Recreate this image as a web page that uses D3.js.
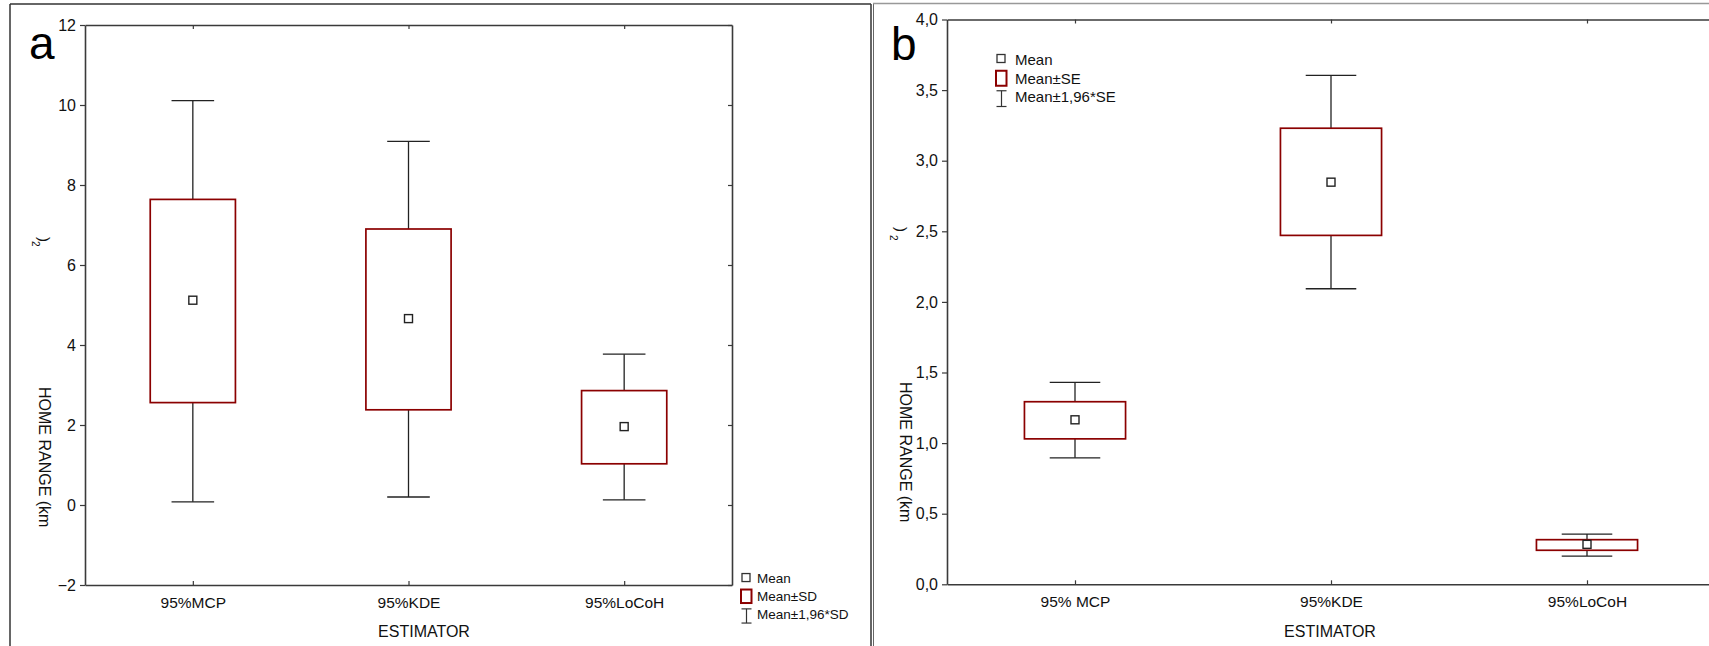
<!DOCTYPE html>
<html>
<head>
<meta charset="utf-8">
<script src="https://cdn.jsdelivr.net/npm/d3@7"></script>
<style>
  html, body { margin: 0; padding: 0; background: #fff; }
  svg { display: block; font-family: "Liberation Sans", Arial, sans-serif; }
</style>
</head>
<body>
<svg id="chart" width="1709" height="646"></svg>
<script>
// ---------- DATA ----------
// Panel a: Mean, Mean±SD (box), Mean±1.96*SD (whiskers)
const categoriesA = ["95%MCP", "95%KDE", "95%LoCoH"];
const meanA   = [5.12, 4.66, 1.96];
const sdLowA  = [2.56, 2.38, 1.03];
const sdHighA = [7.64, 6.90, 2.86];
const ciLowA  = [0.08, 0.20, 0.13];
const ciHighA = [10.11, 9.09, 3.77];
const yTicksA = [-2, 0, 2, 4, 6, 8, 10, 12];
const legendA = ["Mean", "Mean±SD", "Mean±1,96*SD"];

// Panel b: Mean, Mean±SE (box), Mean±1.96*SE (whiskers)
const categoriesB = ["95% MCP", "95%KDE", "95%LoCoH"];
const meanB   = [1.165, 2.848, 0.283];
const seLowB  = [1.030, 2.471, 0.241];
const seHighB = [1.293, 3.230, 0.316];
const ciLowB  = [0.896, 2.093, 0.200];
const ciHighB = [1.430, 3.604, 0.356];
const yTicksB = [0, 0.5, 1, 1.5, 2, 2.5, 3, 3.5, 4];
const legendB = ["Mean", "Mean±SE", "Mean±1,96*SE"];

const yTitle = "HOME RANGE (km";
const xTitle = "ESTIMATOR";

// ---------- DRAW ----------
const svg = d3.select("#chart");
const BOX = "#8b0000", INK = "#222", AX = "#3a3a3a";

// panel frames
svg.append("line").attr("x1", 10).attr("y1", 4).attr("x2", 871).attr("y2", 4)
  .attr("stroke", "#333").attr("stroke-width", 1.5);
svg.append("line").attr("x1", 10).attr("y1", 4).attr("x2", 10).attr("y2", 646)
  .attr("stroke", "#333").attr("stroke-width", 1.5);
svg.append("line").attr("x1", 871).attr("y1", 4).attr("x2", 871).attr("y2", 646)
  .attr("stroke", "#333").attr("stroke-width", 1.5);
svg.append("line").attr("x1", 873.5).attr("y1", 3).attr("x2", 873.5).attr("y2", 646)
  .attr("stroke", "#666").attr("stroke-width", 1);
svg.append("line").attr("x1", 873).attr("y1", 3.5).attr("x2", 1709).attr("y2", 3.5)
  .attr("stroke", "#999").attr("stroke-width", 1.5);

function panel(cfg) {
  const g = svg.append("g");
  const x = d3.scalePoint().domain(cfg.cats).range([cfg.left, cfg.right]).padding(0.5);
  const y = d3.scaleLinear().domain(cfg.ydom).range([cfg.bottom, cfg.top]);
  const bw = x.step() * 0.395;
  const cw = bw * 0.5;

  function styleAxis(sel) {
    sel.select(".domain").attr("stroke", AX).attr("stroke-width", 1.6);
    sel.selectAll(".tick line").attr("stroke", AX).attr("stroke-width", 1.2);
    sel.selectAll("text").attr("fill", "#111").attr("font-family", "Liberation Sans, Arial, sans-serif");
  }

  // left axis
  g.append("g").attr("transform", `translate(${cfg.left},0)`)
    .call(d3.axisLeft(y).tickValues(cfg.ticks).tickFormat(cfg.fmt)
      .tickSize(5).tickSizeOuter(0).tickPadding(4))
    .call(styleAxis)
    .selectAll("text").attr("font-size", 16);
  // right axis (inward ticks, no labels)
  g.append("g").attr("transform", `translate(${cfg.right},0)`)
    .call(d3.axisRight(y).tickValues(cfg.ticks).tickFormat("")
      .tickSize(-4).tickSizeOuter(0))
    .call(styleAxis);
  // top axis
  g.append("g").attr("transform", `translate(0,${cfg.top})`)
    .call(d3.axisTop(x).tickFormat("").tickSize(-4).tickSizeOuter(0))
    .call(styleAxis);
  // bottom axis
  g.append("g").attr("transform", `translate(0,${cfg.bottom})`)
    .call(d3.axisBottom(x).tickSize(-4).tickSizeOuter(0).tickPadding(12))
    .call(styleAxis)
    .selectAll("text").attr("font-size", 15.5);

  const data = cfg.cats.map((c, i) => ({
    c, m: cfg.mean[i], bl: cfg.boxLo[i], bh: cfg.boxHi[i], wl: cfg.wLo[i], wh: cfg.wHi[i]
  }));
  const items = g.append("g").selectAll("g").data(data).join("g");

  // whiskers
  items.append("line").attr("x1", d => x(d.c)).attr("x2", d => x(d.c))
    .attr("y1", d => y(d.bh)).attr("y2", d => y(d.wh)).attr("stroke", INK).attr("stroke-width", 1.3);
  items.append("line").attr("x1", d => x(d.c)).attr("x2", d => x(d.c))
    .attr("y1", d => y(d.bl)).attr("y2", d => y(d.wl)).attr("stroke", INK).attr("stroke-width", 1.3);
  items.append("line").attr("x1", d => x(d.c) - cw / 2).attr("x2", d => x(d.c) + cw / 2)
    .attr("y1", d => y(d.wh)).attr("y2", d => y(d.wh)).attr("stroke", INK).attr("stroke-width", 1.3);
  items.append("line").attr("x1", d => x(d.c) - cw / 2).attr("x2", d => x(d.c) + cw / 2)
    .attr("y1", d => y(d.wl)).attr("y2", d => y(d.wl)).attr("stroke", INK).attr("stroke-width", 1.3);
  // box
  items.append("rect").attr("x", d => x(d.c) - bw / 2).attr("width", bw)
    .attr("y", d => y(d.bh)).attr("height", d => y(d.bl) - y(d.bh))
    .attr("fill", "none").attr("stroke", BOX).attr("stroke-width", 1.7);
  // mean marker
  items.append("rect").attr("x", d => x(d.c) - 4).attr("y", d => y(d.m) - 4)
    .attr("width", 8).attr("height", 8)
    .attr("fill", "#fff").attr("stroke", INK).attr("stroke-width", 1.4);

  // y title (with displaced "²)" glyphs as in the reference)
  g.append("text").attr("transform", `translate(${cfg.ytX},${cfg.ytY}) rotate(90)`)
    .attr("font-size", 16).attr("fill", "#111").text(yTitle);
  g.append("text").attr("transform", `translate(${cfg.parX},${cfg.parY}) rotate(90)`)
    .attr("font-size", 15).attr("fill", "#111").text(")");
  g.append("text").attr("transform", `translate(${cfg.supX},${cfg.supY}) rotate(90)`)
    .attr("font-size", 10).attr("fill", "#111").text("2");

  // x title
  g.append("text").attr("x", cfg.xtX).attr("y", 637).attr("text-anchor", "middle")
    .attr("font-size", 16).attr("fill", "#111").text(xTitle);

  // panel letter
  g.append("text").attr("x", cfg.letX).attr("y", cfg.letY)
    .attr("font-size", cfg.letSize).attr("fill", "#000").text(cfg.letter);

  // legend
  const L = cfg.leg;
  const lg = g.append("g").attr("transform", `translate(${L.x},${L.y})`);
  const rows = lg.selectAll("g").data(cfg.legend).join("g")
    .attr("transform", (d, i) => `translate(0,${i * L.dy})`);
  rows.append("text").attr("x", L.tx).attr("y", 0).attr("font-size", L.fs)
    .attr("fill", "#111").text(d => d);
  // icons
  rows.filter((d, i) => i === 0).append("rect")
    .attr("x", 1).attr("y", -L.fs * 0.7).attr("width", 8).attr("height", 8)
    .attr("fill", "#fff").attr("stroke", "#333").attr("stroke-width", 1.3);
  rows.filter((d, i) => i === 1).append("rect")
    .attr("x", 0).attr("y", -L.fs * 0.85).attr("width", 10.5).attr("height", L.fs * 1.0)
    .attr("fill", "#fff").attr("stroke", BOX).attr("stroke-width", 2);
  const wi = rows.filter((d, i) => i === 2);
  wi.append("line").attr("x1", 5.5).attr("x2", 5.5).attr("y1", -L.fs * 0.75).attr("y2", L.fs * 0.3)
    .attr("stroke", "#333").attr("stroke-width", 1.2);
  wi.append("line").attr("x1", 0.5).attr("x2", 10.5).attr("y1", -L.fs * 0.75).attr("y2", -L.fs * 0.75)
    .attr("stroke", "#333").attr("stroke-width", 1.2);
  wi.append("line").attr("x1", 0.5).attr("x2", 10.5).attr("y1", L.fs * 0.3).attr("y2", L.fs * 0.3)
    .attr("stroke", "#333").attr("stroke-width", 1.2);
}

panel({
  cats: categoriesA, mean: meanA, boxLo: sdLowA, boxHi: sdHighA, wLo: ciLowA, wHi: ciHighA,
  ticks: yTicksA, fmt: d3.format("d"), ydom: [-2, 12],
  left: 85, right: 732, top: 25, bottom: 585,
  ytX: 39, ytY: 387, parX: 39, parY: 237, supX: 32, supY: 241,
  xtX: 424, letter: "a", letX: 29, letY: 59, letSize: 46,
  legend: legendA, leg: { x: 741, y: 583, dy: 18, tx: 16, fs: 13.5 }
});

panel({
  cats: categoriesB, mean: meanB, boxLo: seLowB, boxHi: seHighB, wLo: ciLowB, wHi: ciHighB,
  ticks: yTicksB, fmt: d => d3.format(".1f")(d).replace(".", ","), ydom: [0, 4],
  left: 947, right: 1715, top: 19.5, bottom: 584.3,
  ytX: 900, ytY: 382, parX: 896, parY: 227, supX: 890, supY: 235,
  xtX: 1330, letter: "b", letX: 891, letY: 60, letSize: 46,
  legend: legendB, leg: { x: 996, y: 65, dy: 18.5, tx: 19, fs: 15 }
});
</script>
</body>
</html>
